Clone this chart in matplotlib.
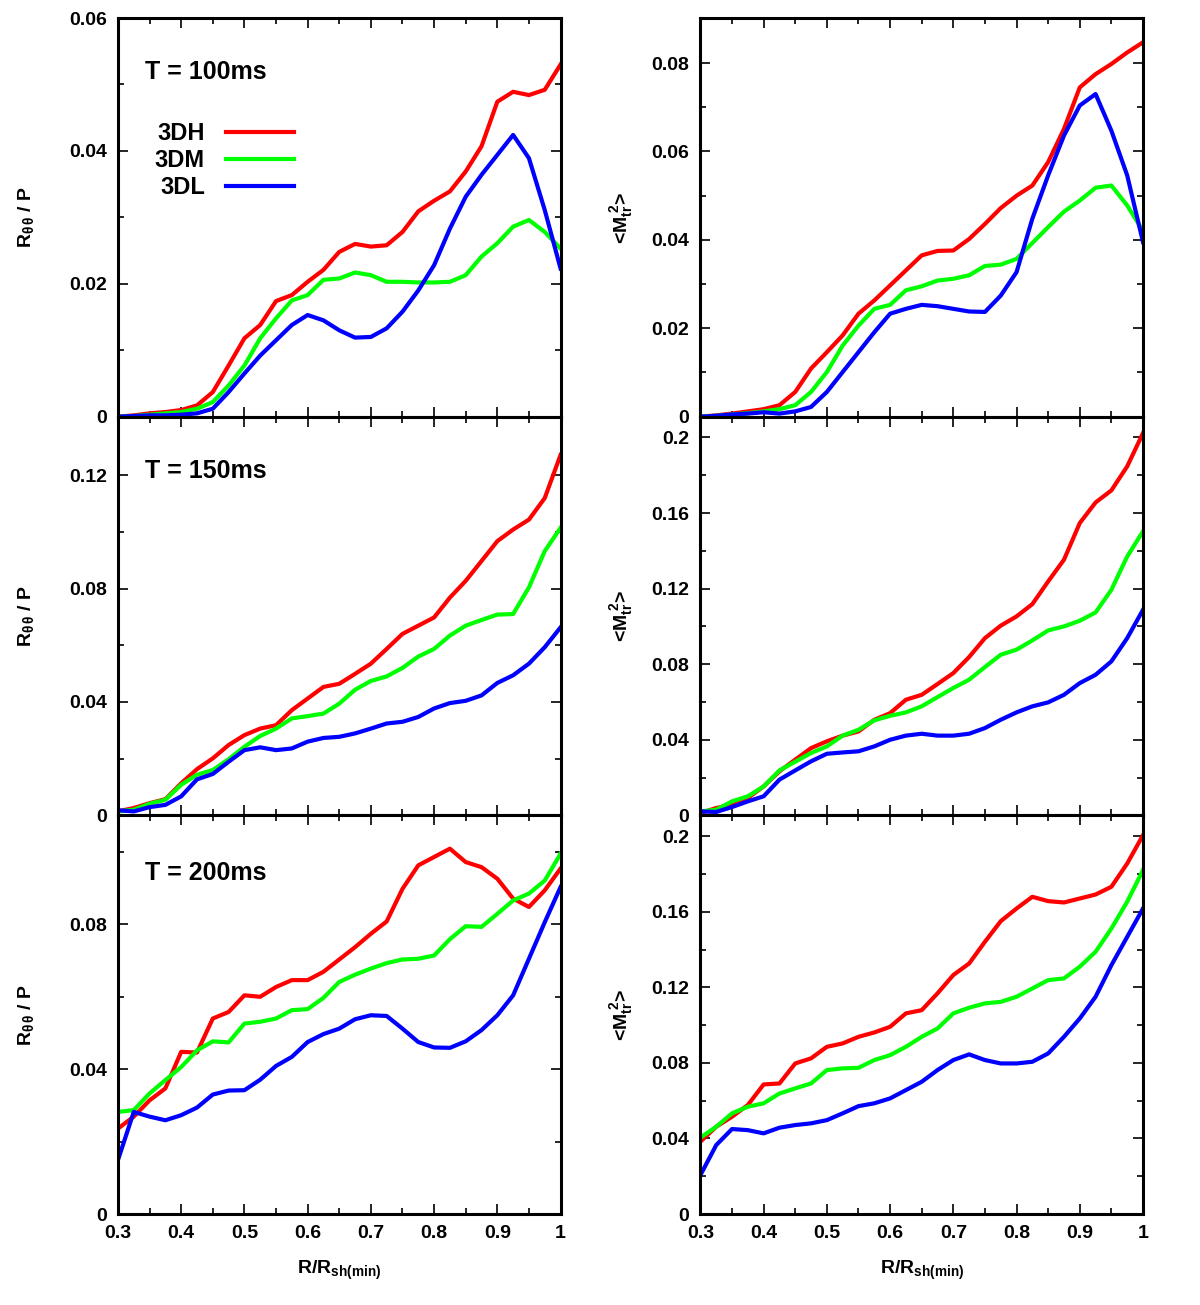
import matplotlib
matplotlib.use("Agg")
import matplotlib.pyplot as plt
from matplotlib.ticker import MultipleLocator, FormatStrFormatter
import numpy as np

plt.rcParams['font.family'] = ['Liberation Sans', 'DejaVu Sans']
plt.rcParams['font.weight'] = 'bold'
plt.rcParams['axes.labelweight'] = 'bold'
plt.rcParams['mathtext.fontset'] = 'custom'
plt.rcParams['mathtext.rm'] = 'Liberation Sans:bold'
plt.rcParams['mathtext.it'] = 'Liberation Sans:bold'
plt.rcParams['mathtext.bf'] = 'Liberation Sans:bold'

# radius grid R/Rsh(min)
r = np.linspace(0.3, 1.0, 29)

models = ["3DH", "3DM", "3DL"]
colors = ["#ff0000", "#00ff00", "#0000ff"]
times = ["T = 100ms", "T = 150ms", "T = 200ms"]
time_y = [0.865, 0.865, 0.855]

# R_theta_theta / P
rtt_100_h = [0.0, 0.0002, 0.0005, 0.0007, 0.001, 0.0017, 0.0037, 0.0077, 0.0118, 0.0138, 0.0174, 0.0183, 0.0203, 0.0221,
             0.0248, 0.026, 0.0256, 0.0258, 0.0278, 0.0309, 0.0325, 0.0339, 0.0369, 0.0407, 0.0474, 0.0489, 0.0484, 0.0492, 0.053]
rtt_100_m = [0.0, 0.0001, 0.0003, 0.0005, 0.0007, 0.0012, 0.0022, 0.0047, 0.0077, 0.0118, 0.0148, 0.0175, 0.0183, 0.0206,
             0.0208, 0.0217, 0.0213, 0.0203, 0.0203, 0.0202, 0.0202, 0.0203, 0.0213, 0.0241, 0.0261, 0.0286, 0.0296, 0.0278, 0.0253]
rtt_100_l = [0.0, 0.0001, 0.0002, 0.0002, 0.0003, 0.0005, 0.0012, 0.0037, 0.0065, 0.0092, 0.0115, 0.0138, 0.0153, 0.0145,
             0.013, 0.0119, 0.012, 0.0133, 0.0158, 0.019, 0.0228, 0.0283, 0.0331, 0.0364, 0.0394, 0.0424, 0.0389, 0.0311, 0.0223]

rtt_150_h = [0.0014, 0.0026, 0.0043, 0.0057, 0.0113, 0.0163, 0.0201, 0.0248, 0.0283, 0.0306, 0.0318, 0.0371, 0.0412, 0.0453,
             0.0464, 0.0499, 0.0535, 0.0587, 0.064, 0.0669, 0.0698, 0.0768, 0.0827, 0.0897, 0.0967, 0.1008, 0.1043, 0.1119, 0.1271]
rtt_150_m = [0.0014, 0.002, 0.0041, 0.0055, 0.0108, 0.0143, 0.016, 0.0198, 0.0242, 0.028, 0.0306, 0.0342, 0.035, 0.0359,
             0.0394, 0.0443, 0.0474, 0.049, 0.052, 0.056, 0.0587, 0.0634, 0.0669, 0.0689, 0.0708, 0.071, 0.0804, 0.0932, 0.1014]
rtt_150_l = [0.0018, 0.0014, 0.0029, 0.0037, 0.0067, 0.0127, 0.0146, 0.0189, 0.023, 0.024, 0.023, 0.0236, 0.026, 0.0273,
             0.0277, 0.0289, 0.0306, 0.0324, 0.033, 0.0347, 0.0377, 0.0396, 0.0404, 0.0423, 0.0467, 0.0494, 0.0535, 0.0593, 0.0663]

rtt_200_h = [0.0236, 0.0269, 0.0314, 0.0347, 0.0448, 0.0446, 0.054, 0.0558, 0.0604, 0.06, 0.0627, 0.0646, 0.0646, 0.0669,
             0.0703, 0.0737, 0.0774, 0.0808, 0.0898, 0.0963, 0.0986, 0.1009, 0.0972, 0.0958, 0.0926, 0.0871, 0.0848, 0.0894, 0.0954]
rtt_200_m = [0.0282, 0.0287, 0.0333, 0.037, 0.0406, 0.0452, 0.0477, 0.0474, 0.0526, 0.0531, 0.054, 0.0563, 0.0566, 0.0597,
             0.0641, 0.0661, 0.0678, 0.0693, 0.0703, 0.0705, 0.0714, 0.0759, 0.0795, 0.0793, 0.0829, 0.0866, 0.0885, 0.0921, 0.0995]
rtt_200_l = [0.0149, 0.0282, 0.0269, 0.0259, 0.0273, 0.0294, 0.033, 0.0341, 0.0342, 0.0371, 0.0409, 0.0434, 0.0475, 0.0497,
             0.0512, 0.0538, 0.0549, 0.0547, 0.0512, 0.0475, 0.046, 0.0459, 0.0477, 0.0508, 0.0549, 0.0604, 0.0705, 0.0806, 0.0903]

# <M_tr^2>
mtr_100_h = [0.0, 0.0003, 0.0007, 0.0012, 0.0017, 0.0026, 0.0056, 0.0109, 0.0146, 0.0184, 0.0233, 0.0263, 0.0297, 0.0331,
             0.0365, 0.0375, 0.0376, 0.0402, 0.0436, 0.0472, 0.05, 0.0523, 0.0576, 0.0651, 0.0745, 0.0775, 0.0798, 0.0824, 0.0847]
mtr_100_m = [0.0, 0.0002, 0.0005, 0.0008, 0.0012, 0.0017, 0.0026, 0.0056, 0.0101, 0.0161, 0.0206, 0.0244, 0.0253, 0.0286,
             0.0295, 0.0308, 0.0312, 0.032, 0.0341, 0.0344, 0.0357, 0.0393, 0.0429, 0.0464, 0.0489, 0.0518, 0.0523, 0.0478, 0.042]
mtr_100_l = [0.0, 0.0002, 0.0005, 0.0007, 0.001, 0.0007, 0.0012, 0.0022, 0.0056, 0.0101, 0.0146, 0.0191, 0.0233, 0.0244,
             0.0253, 0.025, 0.0244, 0.0238, 0.0237, 0.0274, 0.0327, 0.0448, 0.0546, 0.0636, 0.0704, 0.073, 0.0647, 0.0546, 0.0395]

mtr_150_h = [0.0012, 0.0039, 0.0056, 0.0092, 0.0153, 0.0233, 0.0295, 0.0356, 0.0392, 0.0422, 0.0444, 0.0506, 0.0541, 0.0612,
             0.0638, 0.0695, 0.0753, 0.0838, 0.0938, 0.1004, 0.1053, 0.1118, 0.1238, 0.1353, 0.1547, 0.1656, 0.172, 0.1847, 0.2023]
mtr_150_m = [0.0021, 0.003, 0.0074, 0.0101, 0.0153, 0.0238, 0.0284, 0.033, 0.0365, 0.0422, 0.0453, 0.0503, 0.0527, 0.0545,
             0.0577, 0.0626, 0.0674, 0.0718, 0.0785, 0.085, 0.0877, 0.0926, 0.0979, 0.1, 0.103, 0.1074, 0.1194, 0.137, 0.1503]
mtr_150_l = [0.0021, 0.0018, 0.0044, 0.0074, 0.0101, 0.0189, 0.0238, 0.0286, 0.0326, 0.0333, 0.0339, 0.0365, 0.04, 0.0422,
             0.0432, 0.0422, 0.0422, 0.0432, 0.0462, 0.0506, 0.0545, 0.0577, 0.0598, 0.0638, 0.07, 0.0744, 0.0815, 0.0938, 0.1088]

mtr_200_h = [0.0383, 0.0462, 0.0515, 0.0577, 0.0686, 0.0691, 0.0797, 0.0824, 0.0885, 0.0903, 0.0938, 0.0961, 0.0991, 0.1062,
             0.1079, 0.1168, 0.1265, 0.1326, 0.1441, 0.155, 0.1617, 0.1679, 0.1656, 0.1649, 0.167, 0.1691, 0.1732, 0.1855, 0.2005]
mtr_200_m = [0.0404, 0.0462, 0.0533, 0.0568, 0.0586, 0.0638, 0.0665, 0.0691, 0.0762, 0.0771, 0.0774, 0.0815, 0.0841, 0.0885,
             0.0938, 0.0982, 0.1062, 0.1092, 0.1115, 0.1123, 0.115, 0.1194, 0.1238, 0.1247, 0.1309, 0.1388, 0.1511, 0.1653, 0.182]
mtr_200_l = [0.0206, 0.0365, 0.045, 0.0444, 0.0427, 0.0457, 0.0471, 0.048, 0.0497, 0.0533, 0.0571, 0.0586, 0.0612, 0.0656,
             0.07, 0.0762, 0.0815, 0.0845, 0.0815, 0.0797, 0.0797, 0.0806, 0.085, 0.0938, 0.1035, 0.115, 0.1317, 0.1467, 0.1617]

left = [[rtt_100_h, rtt_100_m, rtt_100_l], [rtt_150_h, rtt_150_m, rtt_150_l], [rtt_200_h, rtt_200_m, rtt_200_l]]
right = [[mtr_100_h, mtr_100_m, mtr_100_l], [mtr_150_h, mtr_150_m, mtr_150_l], [mtr_200_h, mtr_200_m, mtr_200_l]]

# (ymax, major, minor) per panel
left_axis = [(0.06, 0.02, 0.01), (0.1406, 0.04, 0.02), (0.1101, 0.04, 0.02)]
right_axis = [(0.0902, 0.02, 0.01), (0.211, 0.04, 0.02), (0.211, 0.04, 0.02)]

fig, axes = plt.subplots(3, 2, figsize=(12, 13.05), dpi=100)
fig.subplots_adjust(left=0.0983, right=0.9525, bottom=0.0697, top=0.9862, hspace=0, wspace=0.316)


def style(ax, ymax, major, minor, bottom):
    ax.set_xlim(0.3, 1.0)
    ax.set_ylim(0, ymax)
    ax.xaxis.set_major_locator(MultipleLocator(0.1))
    ax.xaxis.set_minor_locator(MultipleLocator(0.05))
    ax.yaxis.set_major_locator(MultipleLocator(major))
    ax.yaxis.set_minor_locator(MultipleLocator(minor))
    ax.xaxis.set_major_formatter(FormatStrFormatter('%g'))
    ax.yaxis.set_major_formatter(FormatStrFormatter('%g'))
    ax.tick_params(which='both', direction='in', top=True, right=True, width=1.2, labelsize=14)
    ax.tick_params(which='major', length=7)
    ax.tick_params(which='minor', length=4)
    ax.tick_params(axis='y', pad=8)
    ax.tick_params(axis='x', pad=8, labelbottom=bottom)
    for s in ax.spines.values():
        s.set_linewidth(2.2)


for i in range(3):
    axl = axes[i, 0]
    axr = axes[i, 1]
    for k in range(3):
        axl.plot(r, left[i][k], color=colors[k], lw=3, label=models[k], solid_joinstyle='round')
        axr.plot(r, right[i][k], color=colors[k], lw=3, label=models[k], solid_joinstyle='round')
    style(axl, *left_axis[i], bottom=(i == 2))
    style(axr, *right_axis[i], bottom=(i == 2))
    axl.set_ylabel(r'R$_{\theta\,\theta}$ / P', fontsize=14)
    axr.set_ylabel(r'<M$_{tr}^{\ 2}$>', fontsize=14)
    axl.yaxis.set_label_coords(-0.185, 0.5)
    axr.yaxis.set_label_coords(-0.147, 0.5)
    axl.text(0.061, time_y[i], times[i], transform=axl.transAxes, fontsize=18, fontweight='bold', va='center')

for ax in axes[2]:
    ax.set_xlabel(r'R/R$_{sh(min)}$', fontsize=14)
    ax.xaxis.set_label_coords(0.5, -0.113)

axes[0, 0].legend(loc='upper left', bbox_to_anchor=(0.0835, 0.739), frameon=False, markerfirst=False,
                  fontsize=17, handlelength=2.88, handletextpad=0.89, labelspacing=0.165,
                  borderpad=0, borderaxespad=0)

plt.savefig("out.png", dpi=100)
